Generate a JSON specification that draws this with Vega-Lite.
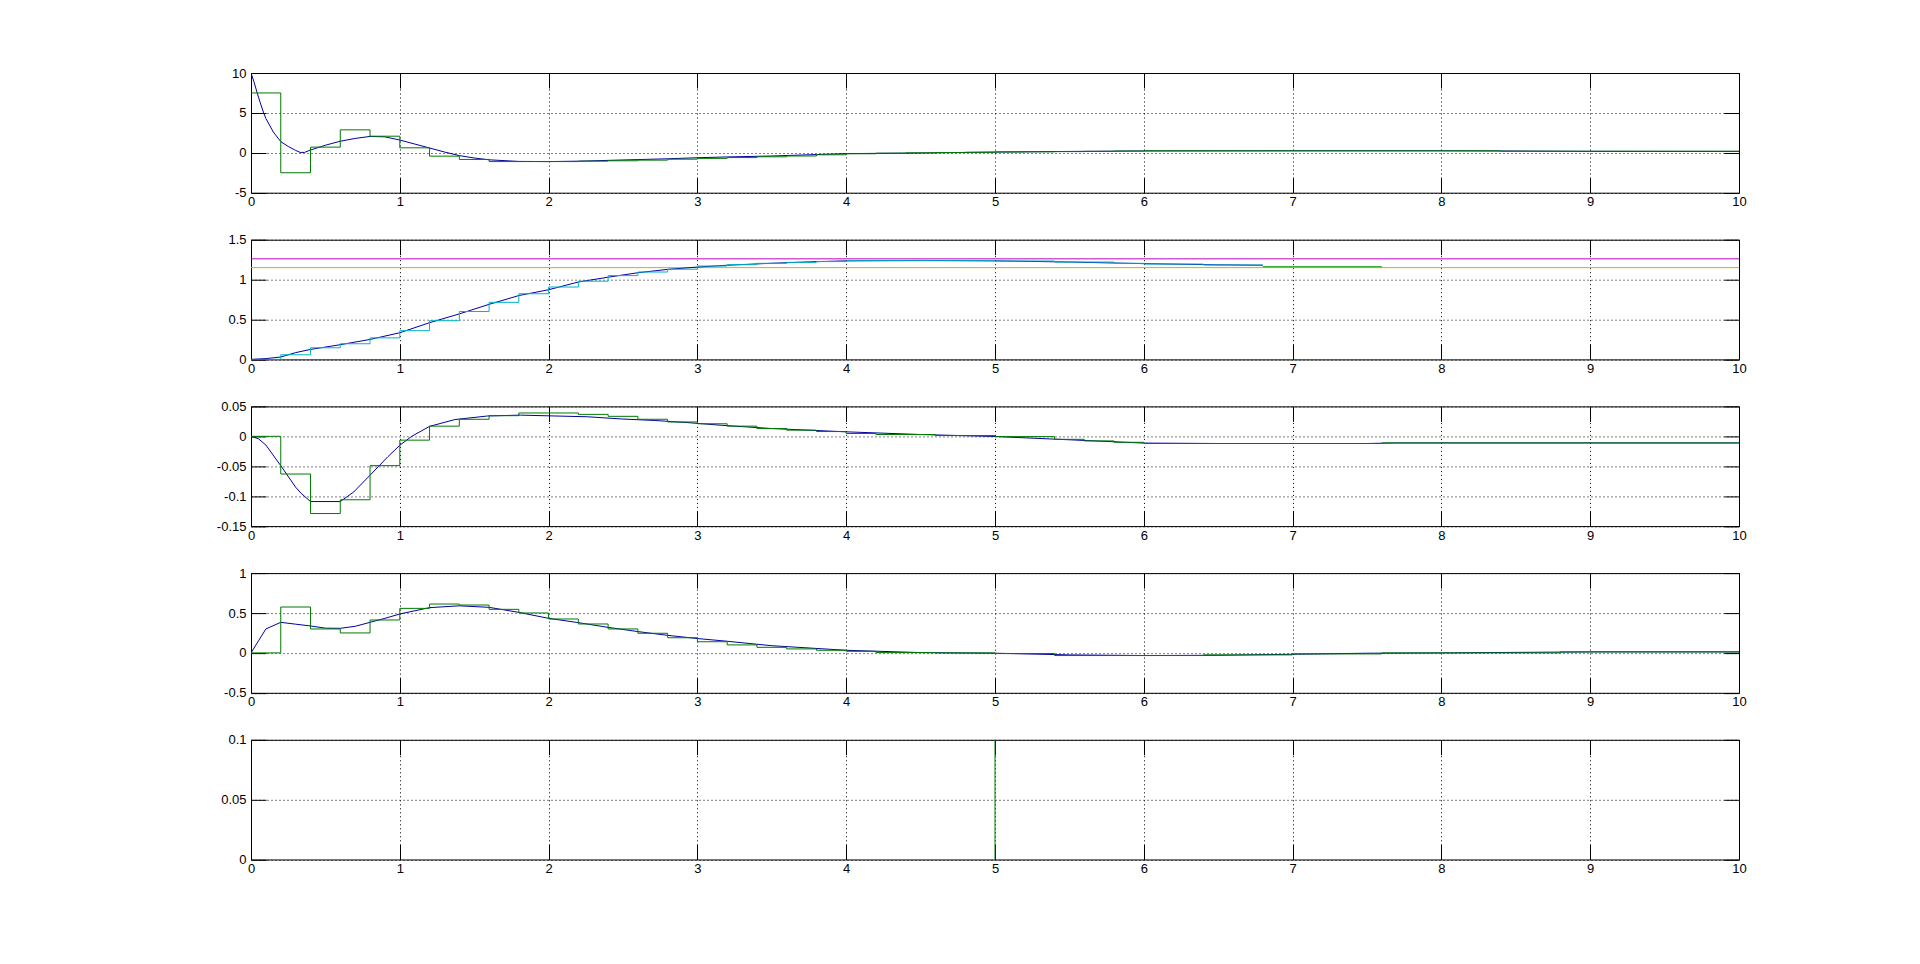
{
  "$schema": "https://vega.github.io/schema/vega-lite/v6.json",
  "background": "white",
  "padding": {"left": 215, "top": 66, "right": 170, "bottom": 85},
  "autosize": {"type": "pad"},
  "bounds": "flush",
  "spacing": 46.7,
  "config": {
    "view": {"stroke": "#000", "strokeWidth": 1},
    "axis": {
      "domain": false,
      "tickColor": "#000",
      "tickSize": -15,
      "tickWidth": 1,
      "labelFont": "Liberation Sans",
      "labelFontSize": 13,
      "labelColor": "#000",
      "gridColor": "#000",
      "gridDash": [1, 3],
      "gridOpacity": 1,
      "gridWidth": 1,
      "labelOverlap": false,
      "labelFlush": false
    },
    "line": {"strokeWidth": 1}
  },
  "datasets": {
    "p1b": [{"t":0,"v":10},{"t":0.02,"v":8.9},{"t":0.04,"v":7.6},{"t":0.06,"v":6.4},{"t":0.085,"v":5.0},{"t":0.1,"v":4.3},{"t":0.15,"v":2.6},{"t":0.2,"v":1.4},{"t":0.25,"v":0.8},{"t":0.3,"v":0.3},{"t":0.33,"v":0.05},{"t":0.36,"v":0.05},{"t":0.4,"v":0.35},{"t":0.5,"v":0.95},{"t":0.6,"v":1.45},{"t":0.7,"v":1.8},{"t":0.8,"v":2.05},{"t":0.9,"v":2.0},{"t":1.0,"v":1.6},{"t":1.1,"v":1.1},{"t":1.2,"v":0.6},{"t":1.3,"v":0.1},{"t":1.4,"v":-0.35},{"t":1.5,"v":-0.65},{"t":1.6,"v":-0.88},{"t":1.8,"v":-1.08},{"t":2.0,"v":-1.1},{"t":2.2,"v":-1.05},{"t":2.4,"v":-0.95},{"t":2.6,"v":-0.85},{"t":2.8,"v":-0.75},{"t":3.0,"v":-0.62},{"t":3.2,"v":-0.52},{"t":3.5,"v":-0.4},{"t":3.8,"v":-0.22},{"t":4.0,"v":-0.1},{"t":4.5,"v":-0.03},{"t":5.0,"v":0.1},{"t":5.5,"v":0.17},{"t":6.0,"v":0.23},{"t":7.0,"v":0.25},{"t":8.0,"v":0.25},{"t":8.5,"v":0.22},{"t":9.0,"v":0.18},{"t":10,"v":0.17}],
    "p1g": [{"t":0,"v":7.5},{"t":0.2,"v":-2.5},{"t":0.4,"v":0.71},{"t":0.6,"v":2.875},{"t":0.8,"v":2.08},{"t":1.0,"v":0.625},{"t":1.2,"v":-0.42},{"t":1.4,"v":-0.83},{"t":1.6,"v":-1.1},{"t":2.2,"v":-1.05},{"t":2.4,"v":-1.0},{"t":2.6,"v":-0.92},{"t":2.8,"v":-0.8},{"t":3.0,"v":-0.7},{"t":3.2,"v":-0.6},{"t":3.4,"v":-0.5},{"t":3.6,"v":-0.4},{"t":3.8,"v":-0.25},{"t":4.0,"v":-0.12},{"t":4.2,"v":-0.05},{"t":4.4,"v":0},{"t":4.6,"v":0.03},{"t":4.8,"v":0.06},{"t":5.0,"v":0.1},{"t":5.2,"v":0.12},{"t":5.4,"v":0.15},{"t":5.6,"v":0.18},{"t":5.8,"v":0.22},{"t":6.0,"v":0.25},{"t":8.4,"v":0.2},{"t":10,"v":0.2}],
    "p2b": [{"t":0,"v":0},{"t":0.1,"v":0.01},{"t":0.2,"v":0.03},{"t":0.3,"v":0.085},{"t":0.4,"v":0.125},{"t":0.6,"v":0.184},{"t":0.8,"v":0.25},{"t":1.0,"v":0.334},{"t":1.2,"v":0.46},{"t":1.4,"v":0.57},{"t":1.6,"v":0.69},{"t":1.8,"v":0.8},{"t":2.0,"v":0.873},{"t":2.2,"v":0.97},{"t":2.4,"v":1.03},{"t":2.6,"v":1.086},{"t":2.8,"v":1.128},{"t":3.0,"v":1.157},{"t":3.2,"v":1.18},{"t":3.5,"v":1.205},{"t":3.8,"v":1.225},{"t":4.0,"v":1.235},{"t":4.5,"v":1.24},{"t":5.0,"v":1.235},{"t":5.5,"v":1.22},{"t":6.0,"v":1.2},{"t":6.5,"v":1.185},{"t":6.8,"v":1.18}],
    "p2c": [{"t":0,"v":0},{"t":0.2,"v":0.058},{"t":0.4,"v":0.146},{"t":0.6,"v":0.196},{"t":0.8,"v":0.27},{"t":1.0,"v":0.36},{"t":1.2,"v":0.485},{"t":1.4,"v":0.6},{"t":1.6,"v":0.715},{"t":1.8,"v":0.823},{"t":2.0,"v":0.907},{"t":2.2,"v":0.98},{"t":2.4,"v":1.05},{"t":2.6,"v":1.095},{"t":2.8,"v":1.13},{"t":3.0,"v":1.17},{"t":3.2,"v":1.187},{"t":3.4,"v":1.204},{"t":3.6,"v":1.216},{"t":3.8,"v":1.226},{"t":4.0,"v":1.237},{"t":5.0,"v":1.233},{"t":5.4,"v":1.22},{"t":5.8,"v":1.204},{"t":6.0,"v":1.195},{"t":6.4,"v":1.183},{"t":6.8,"v":1.183}],
    "p2g": [{"t":6.8,"v":1.162},{"t":7.6,"v":1.162}],
    "p2h": [{"s":"m","level":1.26},{"s":"y","level":1.15}],
    "p3b": [{"t":0,"v":0},{"t":0.05,"v":-0.004},{"t":0.1,"v":-0.0146},{"t":0.2,"v":-0.049},{"t":0.3,"v":-0.085},{"t":0.336,"v":-0.095},{"t":0.4,"v":-0.109},{"t":0.6,"v":-0.109},{"t":0.69,"v":-0.093},{"t":0.8,"v":-0.065},{"t":0.92,"v":-0.034},{"t":1.0,"v":-0.015},{"t":1.08,"v":0},{"t":1.2,"v":0.0166},{"t":1.37,"v":0.028},{"t":1.59,"v":0.034},{"t":1.81,"v":0.0354},{"t":2.04,"v":0.034},{"t":2.26,"v":0.0327},{"t":2.49,"v":0.029},{"t":2.71,"v":0.0265},{"t":2.93,"v":0.023},{"t":3.16,"v":0.0185},{"t":3.5,"v":0.013},{"t":4.0,"v":0.0075},{"t":4.5,"v":0.003},{"t":5.0,"v":-0.0003},{"t":5.5,"v":-0.0058},{"t":6.0,"v":-0.0113},{"t":6.5,"v":-0.012},{"t":7.5,"v":-0.012},{"t":7.7,"v":-0.011},{"t":10,"v":-0.011}],
    "p3g": [{"t":0,"v":0},{"t":0.2,"v":-0.063},{"t":0.4,"v":-0.129},{"t":0.6,"v":-0.106},{"t":0.8,"v":-0.049},{"t":1.0,"v":-0.0064},{"t":1.2,"v":0.017},{"t":1.4,"v":0.0285},{"t":1.6,"v":0.0345},{"t":1.8,"v":0.039},{"t":2.0,"v":0.039},{"t":2.2,"v":0.0367},{"t":2.4,"v":0.0334},{"t":2.6,"v":0.0285},{"t":2.8,"v":0.024},{"t":3.0,"v":0.021},{"t":3.2,"v":0.017},{"t":3.4,"v":0.013},{"t":3.6,"v":0.0103},{"t":3.8,"v":0.008},{"t":4.0,"v":0.0047},{"t":4.2,"v":0.003},{"t":4.6,"v":0.0013},{"t":5.0,"v":-0.0005},{"t":5.4,"v":-0.005},{"t":5.6,"v":-0.0077},{"t":5.8,"v":-0.01},{"t":6.0,"v":-0.012},{"t":7.6,"v":-0.011},{"t":10,"v":-0.011}],
    "p4b": [{"t":0,"v":0},{"t":0.05,"v":0.15},{"t":0.1,"v":0.3},{"t":0.2,"v":0.383},{"t":0.3,"v":0.36},{"t":0.4,"v":0.3375},{"t":0.5,"v":0.31},{"t":0.6,"v":0.308},{"t":0.7,"v":0.333},{"t":0.8,"v":0.383},{"t":0.9,"v":0.433},{"t":1.0,"v":0.4875},{"t":1.2,"v":0.567},{"t":1.4,"v":0.59},{"t":1.6,"v":0.571},{"t":1.8,"v":0.508},{"t":2.0,"v":0.433},{"t":2.2,"v":0.379},{"t":2.4,"v":0.32},{"t":2.6,"v":0.267},{"t":2.8,"v":0.22},{"t":3.0,"v":0.18},{"t":3.2,"v":0.146},{"t":3.5,"v":0.09},{"t":4.0,"v":0.033},{"t":4.5,"v":0.004},{"t":5.0,"v":-0.004},{"t":5.5,"v":-0.025},{"t":6.0,"v":-0.033},{"t":6.5,"v":-0.03},{"t":7.0,"v":-0.017},{"t":7.5,"v":-0.004},{"t":8.0,"v":0},{"t":9.0,"v":0.0125},{"t":10,"v":0.0125}],
    "p4g": [{"t":0,"v":0},{"t":0.2,"v":0.575},{"t":0.4,"v":0.3},{"t":0.6,"v":0.25},{"t":0.8,"v":0.4125},{"t":1.0,"v":0.558},{"t":1.2,"v":0.6125},{"t":1.4,"v":0.6},{"t":1.6,"v":0.546},{"t":1.8,"v":0.5},{"t":2.0,"v":0.425},{"t":2.2,"v":0.3625},{"t":2.4,"v":0.3},{"t":2.6,"v":0.246},{"t":2.8,"v":0.19},{"t":3.0,"v":0.14},{"t":3.2,"v":0.1},{"t":3.4,"v":0.07},{"t":3.6,"v":0.05},{"t":3.8,"v":0.033},{"t":4.0,"v":0.02},{"t":4.2,"v":0.004},{"t":4.6,"v":0},{"t":5.0,"v":-0.008},{"t":5.4,"v":-0.033},{"t":6.4,"v":-0.025},{"t":7.0,"v":-0.0125},{"t":7.6,"v":0},{"t":8.8,"v":0.0125},{"t":10,"v":0.0125}],
    "p5": [{"t":5,"v0":0,"v1":0.1}]
  },
  "vconcat": [
    {
      "width": 1488, "height": 119.7,
      "resolve": {"axis": {"x": "independent", "y": "independent"}},
      "layer": [
        {
          "data": {"name": "p1b"},
          "mark": {"type": "line", "color": "#0000a0", "strokeWidth": 1, "clip": true},
          "encoding": {
            "x": {"field": "t", "type": "quantitative", "scale": {"domain": [0, 10], "nice": false, "zero": false}, "axis": {"orient": "bottom", "title": null, "values": [0,1,2,3,4,5,6,7,8,9,10], "format": "d", "grid": true, "labelPadding": 18}},
            "y": {"field": "v", "type": "quantitative", "scale": {"domain": [-5, 10], "nice": false, "zero": false}, "axis": {"orient": "left", "title": null, "values": [-5,0,5,10], "format": "~f", "labelExpr": "replace(datum.label, '−', '-')", "grid": true, "labelPadding": 20}}
          }
        },
        {
          "data": {"name": "p1g"},
          "mark": {"type": "line", "interpolate": "step-after", "color": "#007a00", "strokeWidth": 1, "clip": true},
          "encoding": {
            "x": {"field": "t", "type": "quantitative", "scale": {"domain": [0, 10], "nice": false, "zero": false}, "axis": {"orient": "top", "title": null, "values": [0,1,2,3,4,5,6,7,8,9,10], "labels": false, "grid": false}},
            "y": {"field": "v", "type": "quantitative", "scale": {"domain": [-5, 10], "nice": false, "zero": false}, "axis": {"orient": "right", "title": null, "values": [-5,0,5,10], "labels": false, "grid": false}}
          }
        }
      ]
    },
    {
      "width": 1488, "height": 119.7,
      "resolve": {"axis": {"x": "independent", "y": "independent"}},
      "layer": [
        {
          "data": {"name": "p2h"},
          "transform": [{"filter": "datum.s == 'm'"}],
          "mark": {"type": "rule", "color": "#bf00bf", "strokeWidth": 1},
          "encoding": {
            "y": {"field": "level", "type": "quantitative", "scale": {"domain": [0, 1.5], "nice": false, "zero": false}, "axis": null}
          }
        },
        {
          "data": {"name": "p2h"},
          "transform": [{"filter": "datum.s == 'y'"}],
          "mark": {"type": "rule", "color": "#c8b400", "strokeWidth": 1},
          "encoding": {
            "y": {"field": "level", "type": "quantitative", "scale": {"domain": [0, 1.5], "nice": false, "zero": false}, "axis": null}
          }
        },
        {
          "data": {"name": "p2b"},
          "mark": {"type": "line", "color": "#0000a0", "strokeWidth": 1, "clip": true},
          "encoding": {
            "x": {"field": "t", "type": "quantitative", "scale": {"domain": [0, 10], "nice": false, "zero": false}, "axis": {"orient": "bottom", "title": null, "values": [0,1,2,3,4,5,6,7,8,9,10], "format": "d", "grid": true, "labelPadding": 18}},
            "y": {"field": "v", "type": "quantitative", "scale": {"domain": [0, 1.5], "nice": false, "zero": false}, "axis": {"orient": "left", "title": null, "values": [0,0.5,1,1.5], "format": "~f", "labelExpr": "replace(datum.label, '−', '-')", "grid": true, "labelPadding": 20}}
          }
        },
        {
          "data": {"name": "p2c"},
          "mark": {"type": "line", "interpolate": "step-after", "color": "#00b4c8", "strokeWidth": 1, "clip": true},
          "encoding": {
            "x": {"field": "t", "type": "quantitative", "scale": {"domain": [0, 10], "nice": false, "zero": false}, "axis": {"orient": "top", "title": null, "values": [0,1,2,3,4,5,6,7,8,9,10], "labels": false, "grid": false}},
            "y": {"field": "v", "type": "quantitative", "scale": {"domain": [0, 1.5], "nice": false, "zero": false}, "axis": {"orient": "right", "title": null, "values": [0,0.5,1,1.5], "labels": false, "grid": false}}
          }
        },
        {
          "data": {"name": "p2g"},
          "mark": {"type": "line", "color": "#40b040", "strokeWidth": 1.5, "clip": true},
          "encoding": {
            "x": {"field": "t", "type": "quantitative", "scale": {"domain": [0, 10], "nice": false, "zero": false}, "axis": null},
            "y": {"field": "v", "type": "quantitative", "scale": {"domain": [0, 1.5], "nice": false, "zero": false}, "axis": null}
          }
        }
      ]
    },
    {
      "width": 1488, "height": 119.7,
      "resolve": {"axis": {"x": "independent", "y": "independent"}},
      "layer": [
        {
          "data": {"name": "p3b"},
          "mark": {"type": "line", "color": "#0000a0", "strokeWidth": 1, "clip": true},
          "encoding": {
            "x": {"field": "t", "type": "quantitative", "scale": {"domain": [0, 10], "nice": false, "zero": false}, "axis": {"orient": "bottom", "title": null, "values": [0,1,2,3,4,5,6,7,8,9,10], "format": "d", "grid": true, "labelPadding": 18}},
            "y": {"field": "v", "type": "quantitative", "scale": {"domain": [-0.15, 0.05], "nice": false, "zero": false}, "axis": {"orient": "left", "title": null, "values": [-0.15,-0.1,-0.05,0,0.05], "format": "~f", "labelExpr": "replace(datum.label, '−', '-')", "grid": true, "labelPadding": 20}}
          }
        },
        {
          "data": {"name": "p3g"},
          "mark": {"type": "line", "interpolate": "step-after", "color": "#007a00", "strokeWidth": 1, "clip": true},
          "encoding": {
            "x": {"field": "t", "type": "quantitative", "scale": {"domain": [0, 10], "nice": false, "zero": false}, "axis": {"orient": "top", "title": null, "values": [0,1,2,3,4,5,6,7,8,9,10], "labels": false, "grid": false}},
            "y": {"field": "v", "type": "quantitative", "scale": {"domain": [-0.15, 0.05], "nice": false, "zero": false}, "axis": {"orient": "right", "title": null, "values": [-0.15,-0.1,-0.05,0,0.05], "labels": false, "grid": false}}
          }
        }
      ]
    },
    {
      "width": 1488, "height": 119.7,
      "resolve": {"axis": {"x": "independent", "y": "independent"}},
      "layer": [
        {
          "data": {"name": "p4b"},
          "mark": {"type": "line", "color": "#0000a0", "strokeWidth": 1, "clip": true},
          "encoding": {
            "x": {"field": "t", "type": "quantitative", "scale": {"domain": [0, 10], "nice": false, "zero": false}, "axis": {"orient": "bottom", "title": null, "values": [0,1,2,3,4,5,6,7,8,9,10], "format": "d", "grid": true, "labelPadding": 18}},
            "y": {"field": "v", "type": "quantitative", "scale": {"domain": [-0.5, 1], "nice": false, "zero": false}, "axis": {"orient": "left", "title": null, "values": [-0.5,0,0.5,1], "format": "~f", "labelExpr": "replace(datum.label, '−', '-')", "grid": true, "labelPadding": 20}}
          }
        },
        {
          "data": {"name": "p4g"},
          "mark": {"type": "line", "interpolate": "step-after", "color": "#007a00", "strokeWidth": 1, "clip": true},
          "encoding": {
            "x": {"field": "t", "type": "quantitative", "scale": {"domain": [0, 10], "nice": false, "zero": false}, "axis": {"orient": "top", "title": null, "values": [0,1,2,3,4,5,6,7,8,9,10], "labels": false, "grid": false}},
            "y": {"field": "v", "type": "quantitative", "scale": {"domain": [-0.5, 1], "nice": false, "zero": false}, "axis": {"orient": "right", "title": null, "values": [-0.5,0,0.5,1], "labels": false, "grid": false}}
          }
        }
      ]
    },
    {
      "width": 1488, "height": 119.7,
      "resolve": {"axis": {"x": "independent", "y": "independent"}},
      "layer": [
        {
          "data": {"name": "p5"},
          "mark": {"type": "rule", "color": "#007a00", "strokeWidth": 1},
          "encoding": {
            "x": {"field": "t", "type": "quantitative", "scale": {"domain": [0, 10], "nice": false, "zero": false}, "axis": {"orient": "bottom", "title": null, "values": [0,1,2,3,4,5,6,7,8,9,10], "format": "d", "grid": true, "labelPadding": 18}},
            "y": {"field": "v0", "type": "quantitative", "scale": {"domain": [0, 0.1], "nice": false, "zero": false}, "axis": {"orient": "left", "title": null, "values": [0,0.05,0.1], "format": "~f", "labelExpr": "replace(datum.label, '−', '-')", "grid": true, "labelPadding": 20}},
            "y2": {"field": "v1"}
          }
        },
        {
          "data": {"name": "p5"},
          "mark": {"type": "point", "opacity": 0},
          "encoding": {
            "x": {"field": "t", "type": "quantitative", "scale": {"domain": [0, 10], "nice": false, "zero": false}, "axis": {"orient": "top", "title": null, "values": [0,1,2,3,4,5,6,7,8,9,10], "labels": false, "grid": false}},
            "y": {"field": "v0", "type": "quantitative", "scale": {"domain": [0, 0.1], "nice": false, "zero": false}, "axis": {"orient": "right", "title": null, "values": [0,0.05,0.1], "labels": false, "grid": false}}
          }
        }
      ]
    }
  ]
}
